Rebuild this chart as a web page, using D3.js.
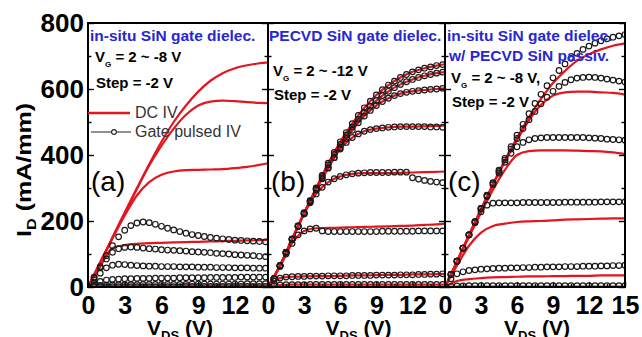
<!DOCTYPE html>
<html>
<head>
<meta charset="utf-8">
<script src="https://cdn.jsdelivr.net/npm/d3@7"></script>
<style>
  html, body { margin: 0; padding: 0; background: #fff; }
  svg { display: block; font-family: Arial, "Liberation Sans", Helvetica, sans-serif; }
</style>
</head>
<body>
<svg id="chart" width="642" height="337"></svg>
<script>
// ---- data (I_D in mA/mm) ----
const vdsPulse = [0, 0.5, 1, 1.5, 2, 2.5, 3, 3.5, 4, 4.5, 5, 5.5, 6, 6.5, 7, 7.5, 8, 8.5, 9, 9.5, 10, 10.5, 11, 11.5, 12, 12.5, 13, 13.5, 14, 14.5]
const vdsPulseC = [0, 0.5, 1, 1.5, 2, 2.5, 3, 3.5, 4, 4.5, 5, 5.5, 6, 6.5, 7, 7.5, 8, 8.5, 9, 9.5, 10, 10.5, 11, 11.5, 12, 12.5, 13, 13.5, 14, 14.5, 15]
const vdsDc = [0, 1, 2, 3, 4, 5, 6, 7, 8, 9, 10, 11, 12, 13, 14, 14.7]
const vdsDcC = [0, 1, 2, 3, 4, 5, 6, 7, 8, 9, 10, 11, 12, 13, 14, 15]

// (a) in-situ SiN gate dielectric, VG = 2 ~ -8 V
const vgA = [2, 0, -2, -4, -6, -8]
const pulsedA = [
  [0, 30, 62, 95, 125, 152, 172, 186, 194, 197, 195, 190, 184, 178, 173, 168, 163, 159, 156, 153, 150, 148, 146, 144, 142, 141, 140, 139, 138, 137],
  [0, 28, 58, 85, 105, 116, 120, 121, 120, 118, 116, 115, 113, 112, 111, 110, 109, 107, 106, 105, 104, 102, 101, 100, 98, 97, 96, 95, 93, 92],
  [0, 22, 42, 58, 66, 69, 68, 66, 65, 64, 63, 63, 62, 62, 62, 61, 61, 61, 60, 60, 60, 59, 59, 59, 58, 58, 58, 57, 57, 57],
  [0, 10, 17, 21, 23, 24, 25, 25, 26, 26, 26, 27, 27, 27, 27, 28, 28, 28, 28, 28, 29, 29, 29, 29, 29, 30, 30, 30, 30, 30],
  [0, 3, 5, 6, 6, 7, 7, 7, 7, 8, 8, 8, 8, 8, 8, 8, 8, 9, 9, 9, 9, 9, 9, 9, 9, 9, 10, 10, 10, 10],
  [0, 0, 1, 1, 1, 1, 1, 1, 1, 1, 1, 1, 1, 1, 1, 1, 2, 2, 2, 2, 2, 2, 2, 2, 2, 2, 2, 2, 2, 2]
]
const dcA = [
  [0, 75, 150, 225, 300, 372, 440, 500, 550, 592, 625, 648, 663, 672, 678, 681],
  [0, 75, 150, 225, 298, 368, 428, 480, 522, 550, 562, 565, 563, 560, 558, 557],
  [0, 74, 147, 217, 278, 318, 340, 350, 354, 355, 356, 357, 360, 364, 370, 375],
  [0, 62, 118, 127, 131, 133, 134, 135, 136, 137, 138, 139, 140, 141, 142, 143],
  [0, 3, 4, 4, 5, 5, 5, 5, 5, 5, 5, 5, 5, 5, 5, 5],
  [0, 1, 1, 1, 1, 1, 1, 1, 1, 1, 1, 1, 1, 1, 1, 1]
]

// (b) PECVD SiN gate dielectric, VG = 2 ~ -12 V
const vgB = [2, 0, -2, -4, -6, -8, -10, -12]
const pulsedB = [
  [0, 25, 65, 105, 145, 185, 225, 262, 300, 338, 375, 408, 440, 468, 495, 520, 543, 563, 582, 598, 612, 624, 635, 644, 652, 658, 663, 667, 671, 674],
  [0, 25, 65, 105, 145, 185, 224, 261, 298, 335, 370, 402, 432, 460, 485, 508, 529, 548, 565, 580, 593, 604, 614, 622, 629, 635, 640, 644, 648, 651],
  [0, 25, 65, 105, 145, 184, 222, 258, 294, 328, 360, 392, 422, 450, 475, 498, 518, 535, 550, 562, 572, 580, 586, 590, 593, 595, 597, 599, 600, 602],
  [0, 25, 65, 105, 145, 184, 222, 260, 296, 330, 362, 392, 418, 438, 453, 464, 472, 477, 480, 482, 484, 485, 486, 486, 486, 486, 486, 485, 485, 484],
  [0, 25, 65, 105, 145, 184, 222, 255, 282, 302, 318, 328, 335, 340, 343, 345, 346, 347, 347, 347, 347, 348, 348, 348, 331, 327, 323, 320, 318, 316],
  [0, 25, 62, 100, 132, 158, 170, 176, 178, 170, 168, 168, 168, 168, 168, 168, 168, 168, 168, 169, 169, 169, 169, 169, 169, 170, 170, 170, 170, 170],
  [0, 18, 27, 30, 31, 32, 32, 33, 33, 33, 34, 34, 34, 34, 35, 35, 35, 35, 36, 36, 36, 36, 37, 37, 37, 38, 38, 39, 39, 40],
  [0, 4, 6, 7, 7, 7, 7, 8, 8, 8, 8, 8, 8, 8, 8, 8, 8, 8, 8, 8, 8, 8, 8, 8, 8, 8, 8, 8, 8, 8]
]
const dcB = [
  [0, 65, 145, 225, 300, 375, 440, 495, 543, 582, 612, 635, 652, 663, 671, 675],
  [0, 65, 145, 224, 298, 370, 432, 485, 529, 565, 593, 614, 629, 640, 648, 651],
  [0, 65, 145, 222, 296, 360, 422, 475, 518, 550, 572, 586, 593, 597, 600, 602],
  [0, 65, 145, 222, 296, 362, 418, 453, 472, 480, 484, 486, 486, 487, 488, 490],
  [0, 65, 145, 222, 282, 318, 335, 343, 345, 345, 345, 346, 347, 348, 349, 350],
  [0, 62, 132, 170, 178, 179, 180, 181, 182, 183, 184, 185, 186, 188, 190, 192],
  [0, 27, 31, 32, 33, 33, 34, 35, 35, 36, 37, 37, 38, 38, 39, 40],
  [0, 6, 7, 7, 7, 7, 7, 7, 7, 7, 7, 7, 7, 7, 7, 7]
]

// (c) in-situ SiN gate dielectric w/ PECVD SiN passivation, VG = 2 ~ -8 V
const vgC = [2, 0, -2, -4, -6, -8]
const pulsedC = [
  [0, 38, 78, 118, 158, 198, 238, 278, 316, 354, 390, 425, 460, 493, 525, 556, 584, 610, 634, 656, 676, 693, 708, 720, 730, 739, 746, 752, 757, 761, 765],
  [0, 38, 78, 118, 158, 198, 238, 277, 314, 350, 385, 418, 450, 480, 507, 532, 555, 575, 593, 608, 620, 628, 633, 635, 636, 635, 633, 630, 627, 624, 621],
  [0, 38, 78, 118, 158, 197, 236, 274, 310, 345, 378, 405, 425, 438, 446, 450, 452, 453, 453, 453, 453, 453, 453, 453, 452, 451, 450, 448, 447, 446, 445],
  [0, 38, 78, 118, 158, 195, 228, 248, 254, 255, 255, 255, 255, 256, 256, 256, 256, 256, 256, 256, 257, 257, 257, 257, 257, 257, 258, 258, 258, 258, 258],
  [0, 25, 40, 46, 50, 52, 54, 55, 56, 57, 57, 58, 58, 59, 59, 60, 60, 61, 61, 61, 62, 62, 62, 63, 63, 63, 64, 64, 65, 65, 66],
  [0, 2, 3, 3, 4, 4, 4, 4, 4, 4, 4, 4, 4, 4, 4, 4, 4, 4, 4, 4, 4, 4, 4, 4, 4, 4, 4, 4, 4, 4, 4]
]
const dcC = [
  [0, 78, 158, 236, 312, 385, 452, 515, 570, 618, 655, 685, 705, 720, 731, 738],
  [0, 78, 158, 236, 310, 380, 445, 505, 552, 580, 590, 592, 592, 590, 588, 583],
  [0, 76, 152, 225, 295, 355, 400, 412, 414, 414, 414, 413, 412, 411, 408, 403],
  [0, 65, 125, 165, 185, 192, 197, 199, 200, 202, 204, 205, 206, 207, 208, 208],
  [0, 18, 24, 27, 29, 30, 31, 32, 32, 33, 33, 34, 34, 35, 35, 35],
  [0, 1, 1, 1, 1, 1, 1, 1, 1, 1, 1, 1, 1, 1, 1, 1]
]

const yTicks = [0, 200, 400, 600, 800]
const yMinor = [100, 300, 500, 700]
const xTicksAB = [0, 3, 6, 9, 12]
const xTicksC = [0, 3, 6, 9, 12, 15]

// ---- layout ----
const svg = d3.select('#chart')
const plotTop = 23
const plotBottom = 287
const red = '#e3161f'
const blue = '#2727d2'

const y = d3.scaleLinear().domain([0, 800]).range([plotBottom, plotTop])

const panels = [
  { id: 'a', x0: 88, x1: 268, xmax: 14.7, ticks: xTicksAB, pv: vdsPulse, dv: vdsDc, pulsed: pulsedA, dc: dcA, vg: vgA },
  { id: 'b', x0: 268, x1: 445, xmax: 14.7, ticks: xTicksAB, pv: vdsPulse, dv: vdsDc, pulsed: pulsedB, dc: dcB, vg: vgB },
  { id: 'c', x0: 445, x1: 625, xmax: 15, ticks: xTicksC, pv: vdsPulseC, dv: vdsDcC, pulsed: pulsedC, dc: dcC, vg: vgC }
]

const defs = svg.append('defs')

panels.forEach(p => {
  const x = d3.scaleLinear().domain([0, p.xmax]).range([p.x0, p.x1])

  defs.append('clipPath').attr('id', 'clip-' + p.id)
    .append('rect')
    .attr('x', p.x0).attr('y', plotTop)
    .attr('width', p.x1 - p.x0).attr('height', plotBottom - plotTop)

  const g = svg.append('g').attr('clip-path', 'url(#clip-' + p.id + ')')

  const line = d3.line()
    .x(d => x(d[0]))
    .y(d => y(d[1]))
    .curve(d3.curveMonotoneX)

  /* ------- DC IV lines ------- */
  g.selectAll('path.dc')
    .data(p.dc)
    .enter()
    .append('path')
    .attr('class', 'dc')
    .attr('d', s => line(p.dv.map((v, i) => [v, s[i]])))
    .attr('fill', 'none')
    .attr('stroke', red)
    .attr('stroke-width', 2.2)

  /* ------- gate pulsed circles ------- */
  p.pulsed.forEach((s, k) => {
    g.selectAll('circle.p' + k)
      .data(p.pv.map((v, i) => [v, s[i]]))
      .enter()
      .append('circle')
      .attr('class', 'p' + k)
      .attr('cx', d => x(d[0]))
      .attr('cy', d => y(d[1]))
      .attr('r', 2.8)
      .attr('fill', 'none')
      .attr('stroke', '#1a1a1a')
      .attr('stroke-width', 1.2)
  })

  /* ------- inner ticks ------- */
  const tickG = svg.append('g')
  tickG.append('g').attr('transform', `translate(${p.x0},0)`)
    .call(d3.axisLeft(y).tickValues(yTicks).tickSize(-6).tickFormat(''))
  tickG.append('g').attr('transform', `translate(${p.x0},0)`)
    .call(d3.axisLeft(y).tickValues(yMinor).tickSize(-3.5).tickFormat(''))
  tickG.append('g').attr('transform', `translate(${p.x1},0)`)
    .call(d3.axisRight(y).tickValues(yTicks).tickSize(-6).tickFormat(''))
  tickG.append('g').attr('transform', `translate(${p.x1},0)`)
    .call(d3.axisRight(y).tickValues(yMinor).tickSize(-3.5).tickFormat(''))
  tickG.append('g').attr('transform', `translate(0,${plotBottom})`)
    .call(d3.axisBottom(x).tickValues(p.ticks).tickSize(-5).tickFormat(''))
  tickG.append('g').attr('transform', `translate(0,${plotBottom})`)
    .call(d3.axisBottom(x).tickValues(p.ticks.map(t => t + 1.5).filter(t => t < p.xmax)).tickSize(-3).tickFormat(''))
  tickG.selectAll('.domain').remove()
  tickG.selectAll('line').attr('stroke-width', 1.4)

  /* ------- frame ------- */
  svg.append('rect')
    .attr('x', p.x0).attr('y', plotTop)
    .attr('width', p.x1 - p.x0).attr('height', plotBottom - plotTop)
    .attr('fill', 'none').attr('stroke', '#000').attr('stroke-width', 2)

  /* ------- x tick labels ------- */
  const xl = svg.append('g').attr('transform', `translate(0,296)`)
    .call(d3.axisBottom(x).tickValues(p.ticks).tickSize(0).tickPadding(0).tickFormat(d3.format('d')))
  xl.select('.domain').remove()
  xl.attr('font-size', 25).attr('font-family', null).attr('font-weight', 'bold')

  /* ------- x title ------- */
  const xt = svg.append('text')
    .attr('x', (p.x0 + p.x1) / 2 + 2).attr('y', 335)
    .attr('text-anchor', 'middle').attr('font-weight', 'bold').attr('font-size', 21)
  xt.append('tspan').text('V')
  xt.append('tspan').attr('font-size', 13).attr('dy', 5).text('DS')
  xt.append('tspan').attr('dy', -5).text(' (V)')

  /* ------- panel letter ------- */
  svg.append('text')
    .attr('x', p.x0 + 3).attr('y', 191)
    .attr('font-size', 28)
    .text('(' + p.id + ')')
})

/* ------- y axis labels ------- */
const yl = svg.append('g').attr('transform', 'translate(84,0)')
  .call(d3.axisLeft(y).tickValues(yTicks).tickSize(0).tickPadding(0))
yl.select('.domain').remove()
yl.attr('font-size', 26).attr('font-family', null).attr('font-weight', 'bold')

const yt = svg.append('text')
  .attr('transform', 'translate(31,170) rotate(-90) scale(1.25,1)')
  .attr('text-anchor', 'middle').attr('font-weight', 'bold').attr('font-size', 20)
yt.append('tspan').text('I')
yt.append('tspan').attr('font-size', 13).attr('dy', 5).text('D')
yt.append('tspan').attr('dy', -5).text(' (mA/mm)')

/* ------- annotations ------- */
const blueText = (x, yy, s) => svg.append('text')
  .attr('x', x).attr('y', yy)
  .attr('fill', blue).attr('font-weight', 'bold').attr('font-size', 15.5)
  .text(s)

blueText(90, 41, 'in-situ SiN gate dielec.')
blueText(269, 41, 'PECVD SiN gate dielec.')
blueText(447, 41, 'in-situ SiN gate dielec.')
blueText(449, 61, 'w/ PECVD SiN passiv.')

const vgText = (x, yy, s) => {
  const t = svg.append('text').attr('x', x).attr('y', yy)
    .attr('font-weight', 'bold').attr('font-size', 15)
  t.append('tspan').text('V')
  t.append('tspan').attr('font-size', 8).attr('dy', 5).text('G')
  t.append('tspan').attr('dy', -5).text(' ' + s)
}
const stepText = (x, yy) => svg.append('text').attr('x', x).attr('y', yy)
  .attr('font-weight', 'bold').attr('font-size', 15).text('Step = -2 V')

vgText(95, 62, '= 2 ~ ' + d3.min(vgA) + ' V')
stepText(96, 88)
vgText(273, 76, '= 2 ~ ' + d3.min(vgB) + ' V')
stepText(274, 100)
vgText(451, 83, '= 2 ~ ' + d3.min(vgC) + ' V,')
stepText(452, 107)

/* ------- legend ------- */
const lg = svg.append('g')
lg.append('line').attr('x1', 88).attr('x2', 130).attr('y1', 113).attr('y2', 113)
  .attr('stroke', red).attr('stroke-width', 2.5)
lg.append('text').attr('x', 135).attr('y', 118).attr('font-size', 16).attr('fill', '#333').text('DC IV')
lg.append('line').attr('x1', 91).attr('x2', 131).attr('y1', 132).attr('y2', 132)
  .attr('stroke', '#222').attr('stroke-width', 1.2)
lg.append('circle').attr('cx', 114).attr('cy', 132).attr('r', 2.4)
  .attr('fill', '#fff').attr('stroke', '#222').attr('stroke-width', 1.1)
lg.append('text').attr('x', 135).attr('y', 137).attr('font-size', 16).attr('fill', '#333').text('Gate pulsed IV')
</script>
</body>
</html>
